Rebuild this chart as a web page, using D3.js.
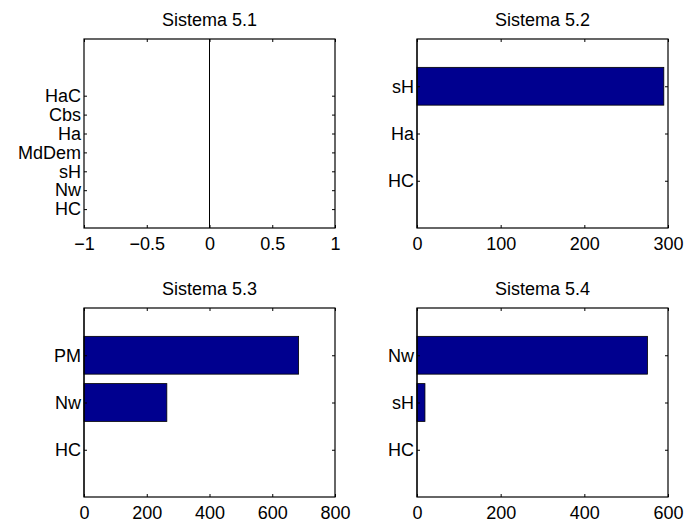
<!DOCTYPE html>
<html>
<head>
<meta charset="utf-8">
<script src="https://cdn.jsdelivr.net/npm/d3@7"></script>
<style>
body { margin: 0; background: #fff; }
svg { font-family: "Liberation Sans", Arial, Helvetica, sans-serif; }
.tick line { stroke: #000; }
.tick text { fill: #000; font-size: 18px; }
</style>
</head>
<body>
<svg id="main_svg" width="686" height="527"></svg>
<script>
// data per subplot
let titles = ["Sistema 5.1", "Sistema 5.2", "Sistema 5.3", "Sistema 5.4"]

let cats1 = ["HC", "Nw", "sH", "MdDem", "Ha", "Cbs", "HaC"]
let vals1 = [0, 0, 0, 0, 0, 0, 0]

let cats2 = ["HC", "Ha", "sH"]
let vals2 = [0, 0, 295]

let cats3 = ["HC", "Nw", "PM"]
let vals3 = [0, 264, 684]

let cats4 = ["HC", "sH", "Nw"]
let vals4 = [0, 19, 551]

let xticks1 = [-1, -0.5, 0, 0.5, 1]
let xticks2 = [0, 100, 200, 300]
let xticks3 = [0, 200, 400, 600, 800]
let xticks4 = [0, 200, 400, 600]

let ymax1 = 10
let ymax2 = 4
let ymax3 = 4
let ymax4 = 4

let bar_color = "#00008f"

function fmt(v){
    // matlab style minus sign
    return (v < 0 ? "\u2212" : "") + Math.abs(v)
}

function draw_panel(px, py, title, cats, vals, xticks, ymax){
    let w = 251
    let h = 189
    let tick = 3
    let svg = d3.select("#main_svg")
    let g = svg.append("g")
        .attr("transform", "translate(" + px + "," + py + ")")

    let x = d3.scaleLinear()
        .domain([xticks[0], xticks[xticks.length - 1]])
        .range([0, w])
    let y = d3.scaleLinear()
        .domain([0, ymax])
        .range([h, 0])

    // bars
    g.selectAll("rect.bar")
        .data(vals)
        .enter()
        .append("rect")
        .attr("class", "bar")
        .attr("x", d => x(Math.min(0, d)))
        .attr("y", (d, i) => y(i + 1 + 0.4))
        .attr("width", d => Math.abs(x(d) - x(0)))
        .attr("height", y(0) - y(0.8))
        .attr("fill", bar_color)
        .attr("stroke", "#000")
        .attr("stroke-width", 0.8)
        .style("display", d => d == 0 ? "none" : null)

    // baseline at zero
    g.append("line")
        .attr("x1", x(0)).attr("x2", x(0))
        .attr("y1", 0).attr("y2", h)
        .attr("stroke", "#000")
        .attr("stroke-width", 1)

    let yt = cats.map((c, i) => i + 1)

    let bottom = g.append("g")
        .attr("transform", "translate(0," + h + ")")
        .call(d3.axisBottom(x).tickValues(xticks).tickFormat(fmt)
            .tickSizeInner(-tick).tickSizeOuter(0).tickPadding(5))
    let top = g.append("g")
        .call(d3.axisTop(x).tickValues(xticks).tickFormat("")
            .tickSizeInner(-tick).tickSizeOuter(0))
    let left = g.append("g")
        .call(d3.axisLeft(y).tickValues(yt).tickFormat((d, i) => cats[i])
            .tickSizeInner(-tick).tickSizeOuter(0).tickPadding(3))
    let right = g.append("g")
        .attr("transform", "translate(" + w + ",0)")
        .call(d3.axisRight(y).tickValues(yt).tickFormat("")
            .tickSizeInner(-tick).tickSizeOuter(0))

    ;[bottom, top, left, right].forEach(a => a.select(".domain").remove())
    bottom.selectAll("text").attr("dy", "0.95em")

    // box
    g.append("rect")
        .attr("x", 0).attr("y", 0)
        .attr("width", w).attr("height", h)
        .attr("fill", "none")
        .attr("stroke", "#000")
        .attr("stroke-width", 1.2)

    g.append("text")
        .attr("x", w / 2)
        .attr("y", -13)
        .attr("text-anchor", "middle")
        .attr("font-size", 18)
        .attr("fill", "#000")
        .text(title)
}

draw_panel(84, 39, titles[0], cats1, vals1, xticks1, ymax1)
draw_panel(417, 39, titles[1], cats2, vals2, xticks2, ymax2)
draw_panel(84, 308, titles[2], cats3, vals3, xticks3, ymax3)
draw_panel(417, 308, titles[3], cats4, vals4, xticks4, ymax4)
</script>
</body>
</html>
